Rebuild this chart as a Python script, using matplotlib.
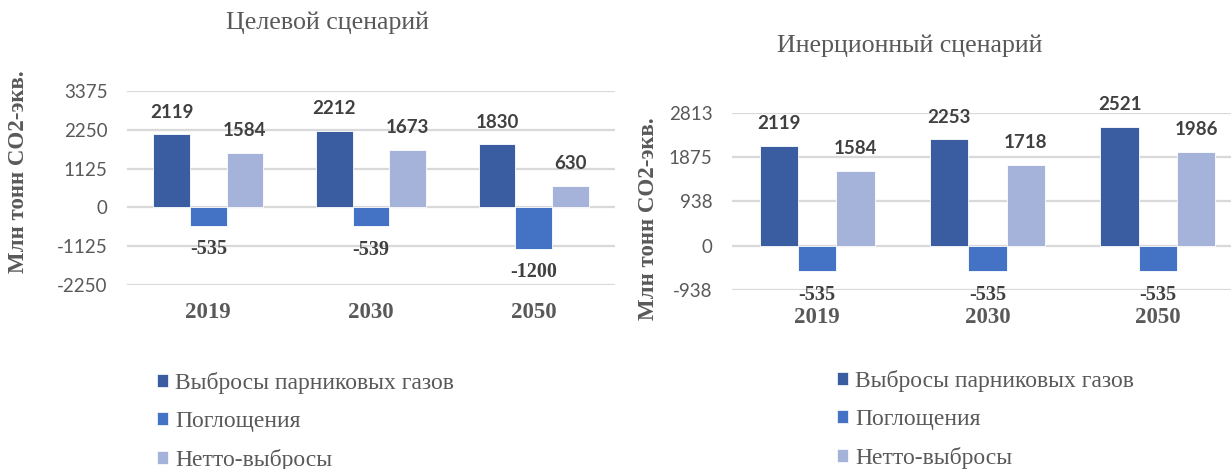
import numpy as np
import matplotlib
matplotlib.use("Agg")
import matplotlib.pyplot as plt
from matplotlib.patches import Patch

years = ["2019", "2030", "2050"]
series = ["Выбросы парниковых газов", "Поглощения", "Нетто-выбросы"]

# Целевой сценарий
target_emis = [2119, 2212, 1830]
target_absorb = [-535, -539, -1200]
target_net = [1584, 1673, 630]
target_ticks = [-2250, -1125, 0, 1125, 2250, 3375]

# Инерционный сценарий
inert_emis = [2119, 2253, 2521]
inert_absorb = [-535, -535, -535]
inert_net = [1584, 1718, 1986]
inert_ticks = [-938, 0, 938, 1875, 2813]

colors = ["#3A5DA2", "#4472C4", "#A5B3DB"]
GRAY = "#595959"
LABEL = "#404040"
SERIF = "Liberation Serif"
SANS = "Lato"

W, H = 1231, 469
fig = plt.figure(figsize=(W / 100, H / 100), dpi=100)


def draw_panel(rect, data, ticks, title, title_xy, ylab_xy):
    ax = fig.add_axes(rect)
    x = np.arange(len(years))
    bw = 0.225
    for i, vals in enumerate(data):
        pos = x + (i - 1) * bw
        ax.bar(pos, vals, width=bw, color=colors[i], edgecolor="white",
               linewidth=0.6, zorder=3)
        for px, v in zip(pos, vals):
            if v >= 0:
                ax.annotate(f"{v}", (px, v), xytext=(0, 16), textcoords="offset points",
                            ha="center", va="center", fontsize=13.5, fontweight="bold",
                            family=SANS, color=LABEL)
            else:
                ax.annotate(f"{v}", (px, v), xytext=(0, -17), textcoords="offset points",
                            ha="center", va="center", fontsize=14.5, fontweight="bold",
                            family=SERIF, color=LABEL)
    ax.set_xlim(-0.5, len(years) - 0.5)
    ax.set_ylim(ticks[0], ticks[-1])
    ax.set_yticks(ticks)
    ax.set_yticklabels([str(t) for t in ticks], family=SANS, fontsize=13.5, color=GRAY)
    ax.set_xticks(x)
    ax.set_xticklabels(years, family=SERIF, fontsize=16.5, fontweight="bold", color=GRAY)
    ax.tick_params(axis="y", length=0, pad=14)
    ax.tick_params(axis="x", length=0, pad=12)
    ax.grid(axis="y", color="#D9D9D9", linewidth=1.6, zorder=0)
    ax.set_axisbelow(True)
    for s in ax.spines.values():
        s.set_visible(False)
    fig.text(title_xy[0] / W, 1 - title_xy[1] / H, title, ha="center", va="center",
             family=SERIF, fontsize=18.7, color=GRAY)
    fig.text(ylab_xy[0] / W, 1 - ylab_xy[1] / H, "Млн тонн CO2-экв.", rotation=90,
             ha="center", va="center", family=SERIF, fontsize=16.5, fontweight="bold",
             color=GRAY)
    return ax


draw_panel([127 / W, 1 - 285 / H, 488 / W, 194 / H],
           [target_emis, target_absorb, target_net], target_ticks,
           "Целевой сценарий", (327, 23), (19, 172))
draw_panel([732 / W, 1 - 290 / H, 511 / W, 177 / H],
           [inert_emis, inert_absorb, inert_net], inert_ticks,
           "Инерционный сценарий", (910, 46), (648, 219))

handles = [Patch(facecolor=c, edgecolor="white", linewidth=0.5) for c in colors]
for lx, ly in [(157, 372), (837, 370)]:
    fig.legend(handles, series, loc="upper left", bbox_to_anchor=(lx / W, 1 - ly / H),
               frameon=False, borderpad=0, borderaxespad=0, handlelength=0.47,
               handleheight=0.47, handletextpad=0.3, labelspacing=0.72,
               prop={"family": SERIF, "size": 17}, labelcolor=GRAY)

fig.savefig("out.png", dpi=100)
